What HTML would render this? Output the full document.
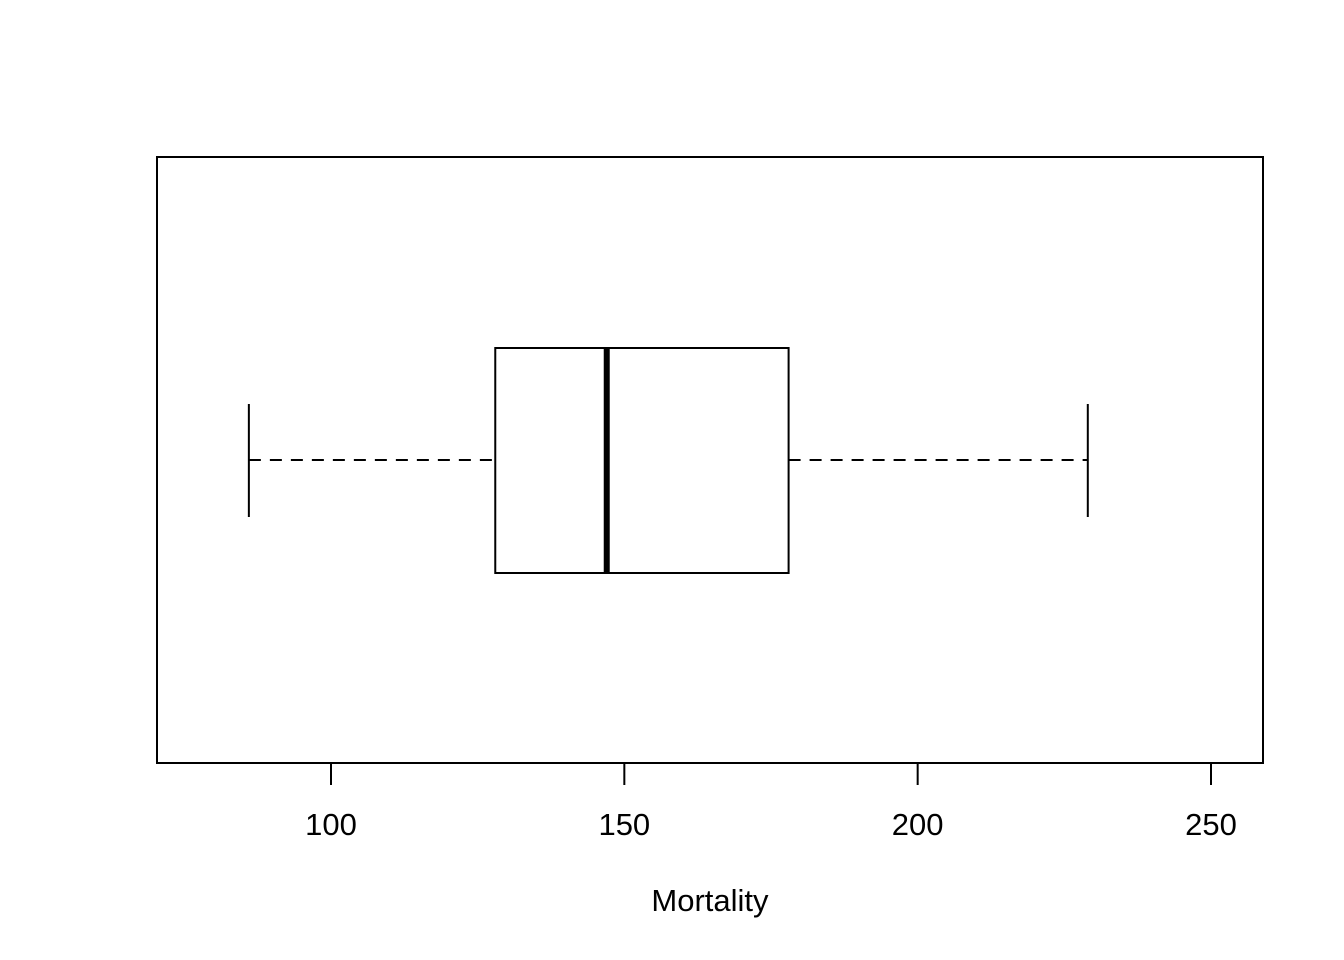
<!DOCTYPE html>
<html>
<head>
<meta charset="utf-8">
<style>
html,body{margin:0;padding:0;background:#fff;}
svg{display:block;}
text{font-family:"Liberation Sans",Arial,sans-serif;fill:#000;}
</style>
</head>
<body>
<svg id="chart" width="1344" height="960" xmlns="http://www.w3.org/2000/svg">
  <rect x="157" y="157" width="1106" height="606" fill="none" stroke="#000" stroke-width="2"/>
  <g id="axis"></g>
  <g id="marks"></g>
  <text x="710" y="911" font-size="31" text-anchor="middle">Mortality</text>
</svg>
<script>
const tickValues = [100, 150, 200, 250];
const tickLabels = ["100", "150", "200", "250"];
const whiskers = [86, 229];
const quartiles = [128, 178];
const median = [147];

const NS = "http://www.w3.org/2000/svg";
function x(v){ return 331 + (v - 100) * (880 / 150); }
function mk(tag, attrs, parent){
  const e = document.createElementNS(NS, tag);
  for (const k in attrs) e.setAttribute(k, attrs[k]);
  parent.appendChild(e);
  return e;
}
const axis = document.getElementById('axis');
const marks = document.getElementById('marks');
const cy = 460;

mk('line', {x1:x(tickValues[0]), x2:x(tickValues[tickValues.length-1]), y1:763, y2:763, stroke:'#000','stroke-width':2}, axis);
tickValues.forEach((v,i)=>{
  const t = mk('line', {x1:x(v), x2:x(v), y1:763, y2:785, stroke:'#000','stroke-width':2}, axis);
  
  
  const l = mk('text', {x:x(v), y:835, 'font-size':31, 'text-anchor':'middle'}, axis);
  l.textContent = tickLabels[i];
  
  
});

const wl = mk('line', {x1:x(whiskers[0]), x2:x(quartiles[0]), y1:cy, y2:cy, stroke:'#000','stroke-width':2,'stroke-dasharray':'12,9'}, marks);


const wu = mk('line', {x1:x(quartiles[1]), x2:x(whiskers[1]), y1:cy, y2:cy, stroke:'#000','stroke-width':2,'stroke-dasharray':'12,9'}, marks);


whiskers.forEach(v=>{
  const c = mk('line', {x1:x(v), x2:x(v), y1:404, y2:517, stroke:'#000','stroke-width':2}, marks);
  
  
});
const box = mk('rect', {x:x(quartiles[0]), y:348, width:x(quartiles[1])-x(quartiles[0]), height:225, fill:'none', stroke:'#000','stroke-width':2}, marks);


const md = mk('line', {x1:x(median[0]), x2:x(median[0]), y1:348, y2:573, stroke:'#000','stroke-width':6}, marks);


</script>
</body>
</html>
